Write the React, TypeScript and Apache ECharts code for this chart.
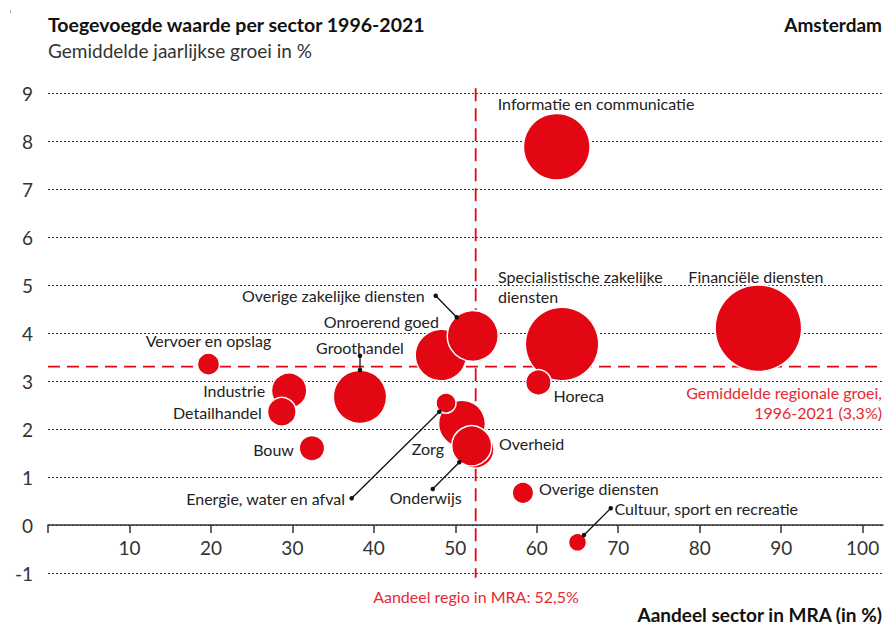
import React, { useEffect, useRef } from 'react';
import * as echarts from 'echarts';

// Sector data (drawing order)
const sectors = [
  'Financiële diensten',
  'Specialistische zakelijke\ndiensten',
  'Informatie en communicatie',
  'Groothandel',
  'Onroerend goed',
  'Overige zakelijke diensten',
  'Zorg',
  'Overheid',
  'Onderwijs',
  'Industrie',
  'Detailhandel',
  'Bouw',
  'Horeca',
  'Vervoer en opslag',
  'Overige diensten',
  'Energie, water en afval',
  'Cultuur, sport en recreatie',
];
// Aandeel sector in MRA (in %)
const aandeel = [87.2, 63.1, 62.45, 38.3, 48.24, 52.14, 50.82, 52.42, 52.01, 29.6, 28.7, 32.4, 60.2, 19.7, 58.3, 48.86, 65.0];
// Gemiddelde jaarlijkse groei in %
const groei = [4.1, 3.77, 7.88, 2.67, 3.54, 3.94, 2.11, 1.58, 1.65, 2.8, 2.36, 1.6, 2.97, 3.35, 0.67, 2.54, -0.36];
// Bubble size (relative size of the sector)
const omvang = [75, 54, 44.4, 28.5, 26.6, 26, 22, 14.4, 16, 12.5, 8.2, 6.45, 6.45, 4.84, 4.6, 4.0, 3.24];

const xTicks = [0, 10, 20, 30, 40, 50, 60, 70, 80, 90, 100];
const xLabels = [10, 20, 30, 40, 50, 60, 70, 80, 90, 100];
const gemiddeldeGroei = 3.3;
const aandeelRegio = 52.5;

// Label placement (pixel offsets from the bubble centre) – styling only
const labelLayout: Record<string, { dx: number; dy: number; align: 'left' | 'right' | 'center' }> = {
  'Financiële diensten': { dx: -70, dy: -52, align: 'left' },
  'Specialistische zakelijke\ndiensten': { dx: -64, dy: -58, align: 'left' },
  'Informatie en communicatie': { dx: -59, dy: -43, align: 'left' },
  Groothandel: { dx: 0, dy: -49, align: 'center' },
  'Onroerend goed': { dx: -2, dy: -34, align: 'right' },
  'Overige zakelijke diensten': { dx: -48, dy: -40, align: 'right' },
  Zorg: { dx: -18, dy: 25, align: 'right' },
  Overheid: { dx: 24, dy: -6, align: 'left' },
  Onderwijs: { dx: -46, dy: 52, align: 'center' },
  Industrie: { dx: -24, dy: 0, align: 'right' },
  Detailhandel: { dx: -20, dy: 1, align: 'right' },
  Bouw: { dx: -18, dy: 1, align: 'right' },
  Horeca: { dx: 15, dy: 13, align: 'left' },
  'Vervoer en opslag': { dx: 0, dy: -24, align: 'center' },
  'Overige diensten': { dx: 16, dy: -4, align: 'left' },
  'Energie, water en afval': { dx: -101, dy: 95, align: 'right' },
  'Cultuur, sport en recreatie': { dx: 37, dy: -34, align: 'left' },
};

// Leader lines (annotation, in axis units)
const leaders: number[][][] = [
  [[47.59, 4.777], [50.17, 4.327]],
  [[38.3, 3.527], [38.3, 3.229]],
  [[37.28, 0.556], [48.04, 2.36]],
  [[47.23, 0.75], [50.49, 1.306]],
  [[69.08, 0.348], [65.8, -0.208]],
];

const RED = '#e30613';
const RED_TEXT = '#e52a33';
const FONT = 'Lato, "Open Sans", sans-serif';

export default function App() {
  const ref = useRef<HTMLDivElement>(null);

  useEffect(() => {
    if (!ref.current) return;
    const chart = echarts.init(ref.current, undefined, { renderer: 'svg' });

    const bubbleData = sectors.map((name, i) => {
      const l = labelLayout[name];
      return {
        name,
        value: [aandeel[i], groei[i], omvang[i]],
        label: {
          show: true,
          position: 'inside',
          offset: [l.dx, l.dy],
          align: l.align,
          verticalAlign: 'middle',
        },
      };
    });

    const leaderSeries = leaders.map((seg) => ({
      type: 'line',
      data: seg,
      symbol: 'circle',
      symbolSize: 4.5,
      showSymbol: true,
      clip: false,
      lineStyle: { color: '#111', width: 1.3 },
      itemStyle: { color: '#111' },
      z: 5,
      silent: true,
    }));

    const option: any = {
      animation: false,
      grid: { left: 48, right: 3, top: 93, bottom: 51, containLabel: false },
      xAxis: {
        type: 'value',
        min: 0,
        max: 102.5,
        interval: 10,
        position: 'bottom',
        offset: -48,
        axisLine: { show: true, onZero: false, lineStyle: { color: '#333', width: 1.5 } },
        axisTick: { show: true, length: 8, customValues: xTicks, lineStyle: { color: '#333', width: 1.5 } },
        axisLabel: {
          customValues: xLabels,
          fontSize: 19,
          color: '#333',
          margin: 13,
          fontFamily: FONT,
          fontWeight: 400,
        },
        splitLine: { show: false },
      },
      yAxis: {
        type: 'value',
        min: -1,
        max: 9,
        interval: 1,
        axisLine: { show: false },
        axisTick: { show: false },
        axisLabel: { fontSize: 19, color: '#333', margin: 15, fontFamily: FONT, fontWeight: 400 },
        splitLine: { show: true, lineStyle: { color: '#333', width: 1, type: [2, 2] } },
      },
      series: [
        {
          type: 'line',
          data: [[0, gemiddeldeGroei], [102.5, gemiddeldeGroei]],
          symbol: 'none',
          lineStyle: { color: RED, width: 1.8, type: [12, 7] },
          z: 1,
          silent: true,
        },
        {
          type: 'line',
          data: [[aandeelRegio, 9.1], [aandeelRegio, -1.1]],
          symbol: 'none',
          clip: false,
          lineStyle: { color: RED, width: 1.8, type: [13, 7] },
          z: 1,
          silent: true,
        },
        {
          type: 'scatter',
          data: bubbleData,
          symbolSize: (v: number[]) => 10 * Math.sqrt(v[2]),
          itemStyle: { color: RED, borderColor: '#fff', borderWidth: 1.5, opacity: 1 },
          label: {
            color: '#222',
            fontSize: 16,
            lineHeight: 20,
            fontFamily: FONT,
            fontWeight: 400,
            formatter: (p: any) => p.name,
          },
          z: 3,
        },
        ...leaderSeries,
      ],
      graphic: [
        { type: 'rect', shape: { x: 10, y: 10, width: 1, height: 3 }, style: { fill: '#aaa' } },
        {
          type: 'text',
          x: 48,
          y: 24,
          style: {
            text: 'Toegevoegde waarde per sector 1996-2021',
            fontSize: 19.5,
            fontWeight: 'bold',
            fontFamily: FONT,
            fill: '#111',
            verticalAlign: 'middle',
            align: 'left',
          },
        },
        {
          type: 'text',
          x: 48,
          y: 50,
          style: {
            text: 'Gemiddelde jaarlijkse groei in %',
            fontSize: 19,
            fontWeight: 400,
            fontFamily: FONT,
            fill: '#333',
            verticalAlign: 'middle',
            align: 'left',
          },
        },
        {
          type: 'text',
          x: 882,
          y: 24,
          style: {
            text: 'Amsterdam',
            fontSize: 19,
            fontWeight: 'bold',
            fontFamily: FONT,
            fill: '#111',
            verticalAlign: 'middle',
            align: 'right',
          },
        },
        {
          type: 'text',
          x: 882,
          y: 614,
          style: {
            text: 'Aandeel sector in MRA (in %)',
            fontSize: 19,
            fontWeight: 'bold',
            fontFamily: FONT,
            fill: '#111',
            verticalAlign: 'middle',
            align: 'right',
          },
        },
        {
          type: 'text',
          x: 476,
          y: 596,
          style: {
            text: 'Aandeel regio in MRA: 52,5%',
            fontSize: 16,
            fontWeight: 400,
            fontFamily: FONT,
            fill: RED_TEXT,
            verticalAlign: 'middle',
            align: 'center',
          },
        },
        {
          type: 'text',
          x: 882,
          y: 402,
          style: {
            text: 'Gemiddelde regionale groei,\n1996-2021 (3,3%)',
            fontSize: 16,
            lineHeight: 20,
            fontWeight: 400,
            fontFamily: FONT,
            fill: RED_TEXT,
            verticalAlign: 'middle',
            align: 'right',
          },
        },
      ],
    };

    chart.setOption(option);
    return () => chart.dispose();
  }, []);

  return <div ref={ref} style={{ width: 886, height: 624, position: 'absolute', left: 0, top: 0, background: '#fff' }} />;
}
